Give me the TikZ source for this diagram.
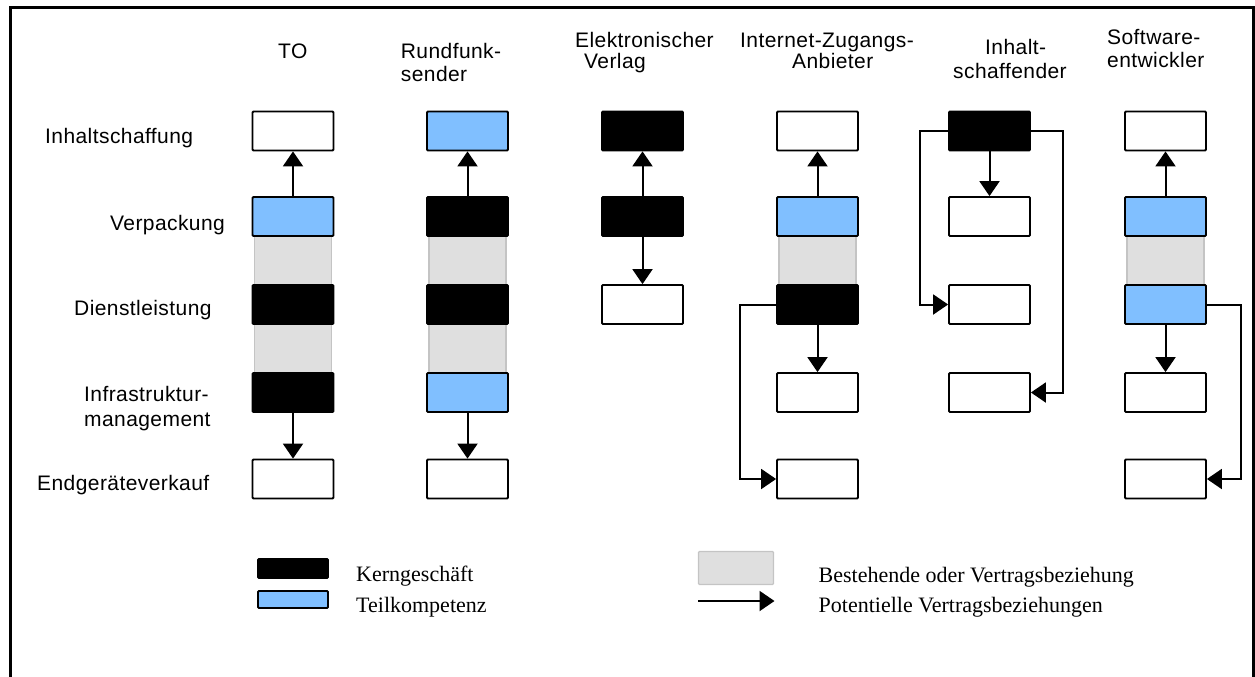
\documentclass[tikz,border=0pt]{standalone}
\usepackage{fontspec}
\usepackage{xcolor}
\usetikzlibrary{shapes, arrows.meta, positioning}
\newfontfamily\labelfont{Liberation Sans}[LetterSpace=2]
\newfontfamily\legendfont{Liberation Serif}
\definecolor{partblue}{HTML}{80BFFF}
\definecolor{bandgray}{HTML}{DFDFDF}
\definecolor{bandedge}{HTML}{C4C4C4}
\newcommand{\twoline}[2]{\begin{tabular}[t]{@{}l@{}}#1\\#2\end{tabular}}
\tikzset{
  box/.style={rectangle, draw=black, line width=1.8pt, rounded corners=1pt,
    minimum width=81pt, minimum height=39pt, inner sep=0pt},
  blank/.style={box, fill=white},
  core/.style={box, fill=black},
  part/.style={box, fill=partblue},
  band/.style={fill=bandgray, draw=bandedge, line width=1.2pt},
  rel/.style={line width=2pt, -{Triangle[width=20pt,length=15pt]}},
  rowtext/.style={anchor=base west, inner sep=0pt, font=\labelfont\fontsize{21}{25}\selectfont},
  headtext/.style={anchor=base west, inner sep=0pt, font=\labelfont\fontsize{21}{23.5}\selectfont},
  legtext/.style={anchor=base west, inner sep=0pt, font=\legendfont\fontsize{22}{26}\selectfont}
}
\begin{document}
\begin{tikzpicture}[x=1pt, y=-1pt]
			\useasboundingbox (0,0) rectangle (1255,677);
			\draw[line width=3pt] (10,677) -- (10,8) -- (1253.5,8) -- (1253.5,677);
			
			% headers
			\node[headtext] (hTO) at (278,59) {TO};
			\node[headtext] (hRF) at (400.7,58.3) {\twoline{Rundfunk-}{sender}};
			\node[headtext, font=\labelfont\fontsize{21}{18}\selectfont] (hEL) at (575,48) {\twoline{Elektronischer}{\hspace*{9pt}Verlag}};
			\node[headtext, font=\labelfont\fontsize{21}{18}\selectfont] (hIZ) at (740,48) {\twoline{Internet-Zugangs-}{\hspace*{52pt}Anbieter}};
			\node[headtext] (hIS) at (953,55) {\twoline{\hspace*{32pt}Inhalt-}{schaffender}};
			\node[headtext] (hSW) at (1107,44.3) {\twoline{Software-}{entwickler}};
			
			% rows
			\node[rowtext] (rIC) at (45,143.3) {Inhaltschaffung};
			\node[rowtext] (rVP) at (110,230) {Verpackung};
			\node[rowtext] (rDL) at (74,315) {Dienstleistung};
			\node[rowtext] (rIM) at (84,401.7) {\twoline{Infrastruktur-}{management}};
			\node[rowtext] (rEV) at (37,490.7) {Endger\"ateverkauf};
			
			% existing relations
			\foreach \cx/\ya/\yb in {293/230/290, 293/318/378, 467.5/230/290, 467.5/318/378, 817.5/230/290, 1165.5/230/290}
				\filldraw[band] (\cx-38.5,\ya) rectangle (\cx+38.5,\yb);
			
			\node[blank] (to-ic) at (293,131) {};
			\node[part]  (to-vp) at (293,216.5) {};
			\node[core]  (to-dl) at (293,304.5) {};
			\node[core]  (to-im) at (293,392.5) {};
			\node[blank] (to-ev) at (293,479) {};
			
			\node[part]  (rf-ic) at (467.5,131) {};
			\node[core]  (rf-vp) at (467.5,216.5) {};
			\node[core]  (rf-dl) at (467.5,304.5) {};
			\node[part]  (rf-im) at (467.5,392.5) {};
			\node[blank] (rf-ev) at (467.5,479) {};
			
			\node[core]  (el-ic) at (642.5,131) {};
			\node[core]  (el-vp) at (642.5,216.5) {};
			\node[blank] (el-dl) at (642.5,304.5) {};
			
			\node[blank] (iz-ic) at (817.5,131) {};
			\node[part]  (iz-vp) at (817.5,216.5) {};
			\node[core]  (iz-dl) at (817.5,304.5) {};
			\node[blank] (iz-im) at (817.5,392.5) {};
			\node[blank] (iz-ev) at (817.5,479) {};
			
			\node[core]  (is-ic) at (989.5,131) {};
			\node[blank] (is-vp) at (989.5,216.5) {};
			\node[blank] (is-dl) at (989.5,304.5) {};
			\node[blank] (is-im) at (989.5,392.5) {};
			
			\node[blank] (sw-ic) at (1165.5,131) {};
			\node[part]  (sw-vp) at (1165.5,216.5) {};
			\node[part]  (sw-dl) at (1165.5,304.5) {};
			\node[blank] (sw-im) at (1165.5,392.5) {};
			\node[blank] (sw-ev) at (1165.5,479) {};
			
			% potential relations
			\draw[rel] (to-vp) -- (to-ic);
			\draw[rel] (to-im) -- (to-ev);
			\draw[rel] (rf-vp) -- (rf-ic);
			\draw[rel] (rf-im) -- (rf-ev);
			\draw[rel] (el-vp) -- (el-ic);
			\draw[rel] (el-vp) -- (el-dl);
			\draw[rel] (iz-vp) -- (iz-ic);
			\draw[rel] (iz-dl) -- (iz-im);
			\draw[rel] (iz-dl.west) -- ++(-36,0) |- (iz-ev.west);
			\draw[rel] (is-ic) -- (is-vp);
			\draw[rel] (is-ic.west) -- ++(-28,0) |- (is-dl.west);
			\draw[rel] (is-ic.east) -- ++(32,0) |- (is-im.east);
			\draw[rel] (sw-vp) -- (sw-ic);
			\draw[rel] (sw-dl) -- (sw-im);
			\draw[rel] (sw-dl.east) -- ++(34,0) |- (sw-ev.east);
			
			% legend
			\node[core, minimum width=70pt, minimum height=19pt] (lgK) at (293,568.5) {};
			\node[part, minimum width=70pt, minimum height=17pt] (lgT) at (293,599.5) {};
			\node[band, rectangle, rounded corners=1pt, minimum width=75pt, minimum height=33pt] (lgB) at (736,568) {};
			\coordinate (lgA1) at (698,601);
			\coordinate (lgA2) at (774.5,601);
			\draw[rel] (lgA1) -- (lgA2);
			\node[legtext] (tK) at (356,581.7) {Kerngesch\"aft};
			\node[legtext] (tT) at (356,612.7) {Teilkompetenz};
			\node[legtext] (tB) at (818.5,582) {Bestehende oder Vertragsbeziehung};
			\node[legtext] (tP) at (818.5,612.7) {Potentielle Vertragsbeziehungen};
		\end{tikzpicture}
\end{document}
